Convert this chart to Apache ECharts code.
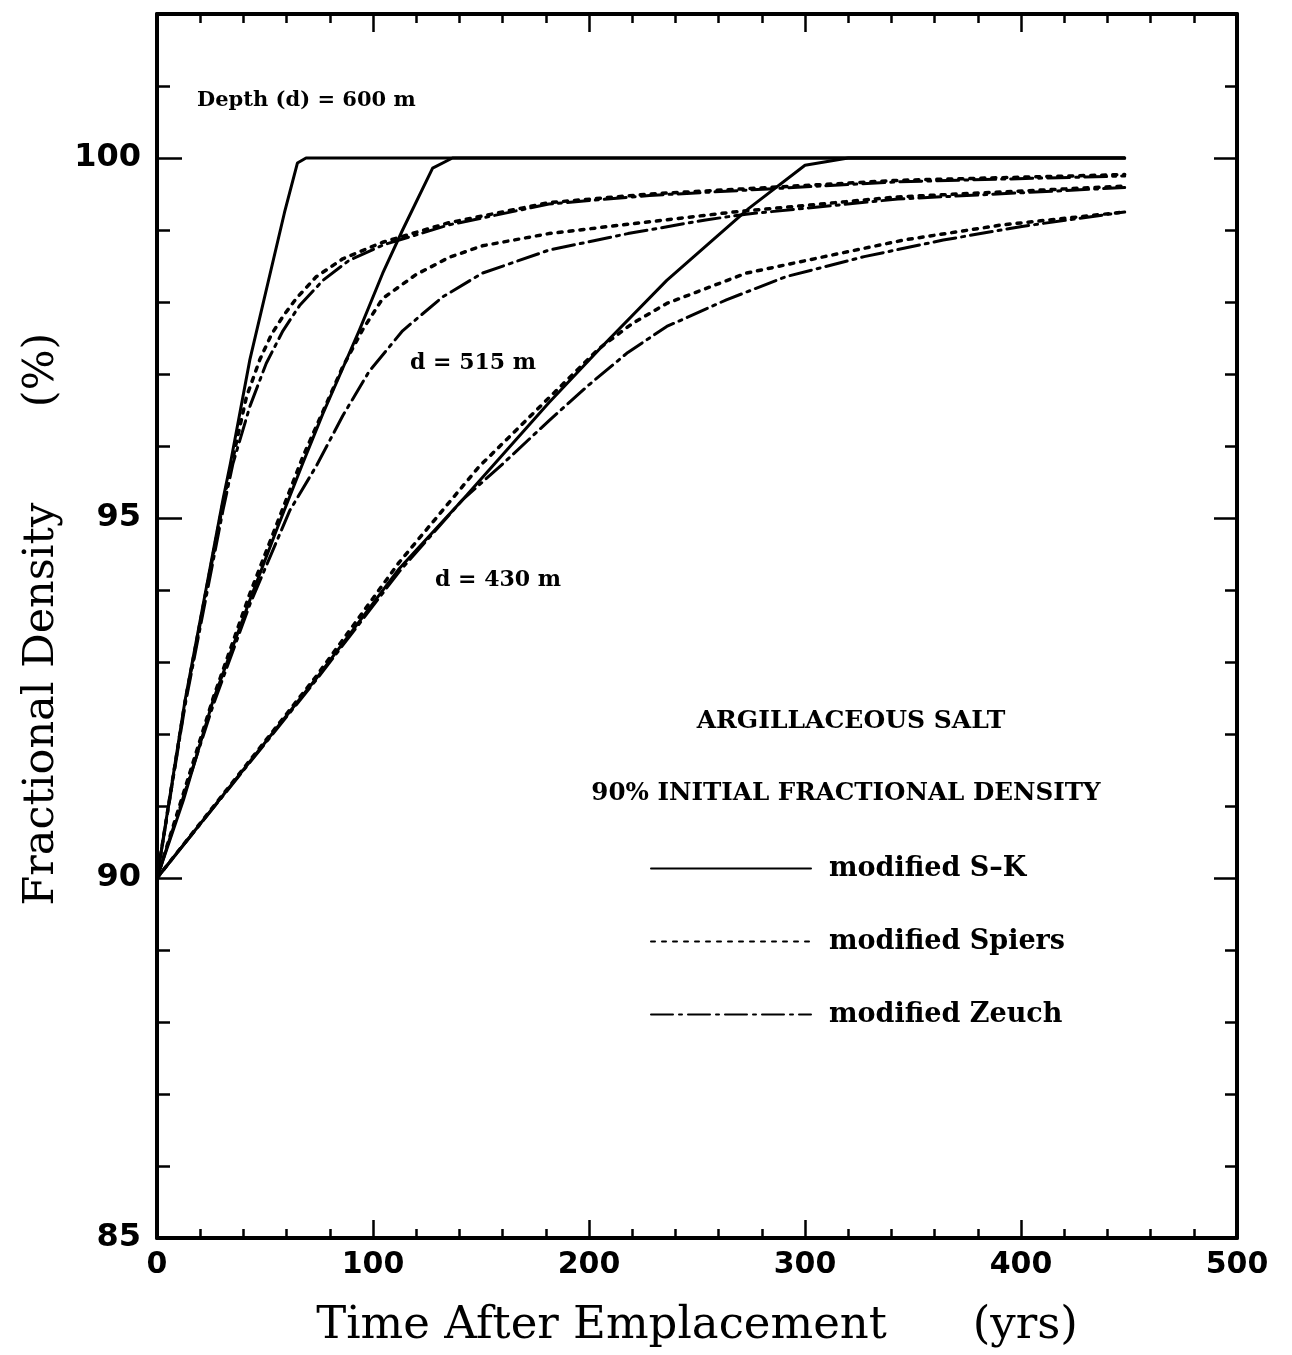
<!DOCTYPE html>
<html>
<head>
<meta charset="utf-8">
<title>Argillaceous salt - fractional density</title>
<script src="https://cdn.jsdelivr.net/npm/echarts@6.0.0/dist/echarts.min.js"></script>
<style>
  html, body { margin: 0; padding: 0; background: #fff; }
  #main { width: 1292px; height: 1355px; }
</style>
</head>
<body>
<div id="main"></div>
<script>
// Data: [time after emplacement (yrs), fractional density (%)]
// depth 600 m
const sk600 = [[0, 90], [13, 92.47], [30.5, 95.25], [34, 95.76], [43, 97.2], [59, 99.24], [65, 99.93], [69, 100], [448, 100]];
const spiers600 = [[0, 90], [13, 92.45], [30.5, 95.2], [41.4, 96.68], [47.6, 97.2], [53, 97.55], [58.3, 97.8], [64.5, 98.05],
    [73.7, 98.35], [86, 98.6], [104.5, 98.83], [135, 99.1], [181.4, 99.38], [228, 99.5], [289, 99.6], [343, 99.69], [448, 99.77]];
const zeuch600 = [[0, 90], [13, 92.4], [30.5, 95.1], [35.2, 95.76], [43, 96.55], [50.6, 97.15], [58.3, 97.6], [66, 97.95],
    [76.8, 98.3], [89, 98.58], [104.5, 98.79], [135, 99.07], [181.4, 99.36], [228, 99.48], [289, 99.58], [343, 99.67], [448, 99.75]];
// depth 515 m
const sk515 = [[0, 90], [12.2, 91.08], [26, 92.47], [43, 93.86], [55.3, 94.83], [67.5, 95.76], [76.8, 96.45], [86, 97.08],
    [93.7, 97.61], [104.5, 98.4], [113.7, 99.0], [127.6, 99.86], [136.8, 100], [448, 100]];
const spiers515 = [[0, 90], [26, 92.5], [43, 93.95], [67.5, 95.85], [86, 97.1], [95.3, 97.62], [104.5, 98.05], [119.9, 98.38],
    [135.3, 98.62], [150.6, 98.78], [181.4, 98.95], [218, 99.08], [267, 99.25], [343, 99.46], [448, 99.61]];
const zeuch515 = [[0, 90], [26, 92.4], [43, 93.8], [61.4, 95.1], [73.7, 95.72], [86, 96.42], [98.3, 97.04], [113.7, 97.6],
    [132.2, 98.07], [150.6, 98.4], [181.4, 98.72], [218, 98.95], [254, 99.14], [272.7, 99.22], [343, 99.43], [448, 99.59]];
// depth 430 m
const sk430 = [[0, 90], [73.7, 92.77], [112.2, 94.3], [141.4, 95.25], [181.4, 96.6], [205, 97.35], [236, 98.3], [274, 99.3],
    [300, 99.9], [320, 100], [448, 100]];
const spiers430 = [[0, 90], [73.7, 92.8], [112, 94.38], [149, 95.71], [204.5, 97.35], [220, 97.7], [236, 97.98], [272.7, 98.4],
    [309, 98.63], [345.6, 98.86], [391, 99.07], [448, 99.25]];
const zeuch430 = [[0, 90], [73.7, 92.75], [112, 94.25], [141.4, 95.25], [160, 95.75], [181.4, 96.35], [200, 96.85], [218, 97.3],
    [236, 97.66], [263.6, 98.03], [291, 98.35], [327.4, 98.63], [364, 98.86], [400.4, 99.05], [448, 99.25]];

const modelNames = ['modified S\u2013K', 'modified Spiers', 'modified Zeuch'];
const xTickLabels = [0, 100, 200, 300, 400, 500];
const yTickLabels = [85, 90, 95, 100];

// Line styles per model
const modelStyles = {
    'modified S\u2013K': { type: 'solid', width: 3 },
    'modified Spiers': { type: [4, 7], width: 3.5 },
    'modified Zeuch': { type: [22, 6, 3, 6], width: 3 }
};

const curves = [
    { model: modelNames[0], data: sk600 },
    { model: modelNames[1], data: spiers600 },
    { model: modelNames[2], data: zeuch600 },
    { model: modelNames[0], data: sk515 },
    { model: modelNames[1], data: spiers515 },
    { model: modelNames[2], data: zeuch515 },
    { model: modelNames[0], data: sk430 },
    { model: modelNames[1], data: spiers430 },
    { model: modelNames[2], data: zeuch430 }
];

const BLACK = '#000';
const serif = '"DejaVu Serif", "Liberation Serif", serif';
const sans = '"DejaVu Sans", "Liberation Sans", sans-serif';

function tickAxis(position, interval, length, withLine, min, max) {
    return {
        type: 'value',
        position: position,
        min: min,
        max: max,
        interval: interval,
        axisLine: { show: withLine, onZero: false, lineStyle: { color: BLACK, width: 4 } },
        axisTick: { show: true, inside: true, length: length, lineStyle: { color: BLACK, width: 2.5 } },
        axisLabel: { show: false },
        splitLine: { show: false }
    };
}

const chart = echarts.init(document.getElementById('main'), null, { renderer: 'canvas' });

const xMain = tickAxis('bottom', 20, 9, true, 0, 500);
xMain.axisLabel = {
    show: true,
    formatter: v => xTickLabels.includes(v) ? String(v) : '',
    fontFamily: sans, fontWeight: 'bold', fontSize: 30, color: BLACK, margin: 12
};
xMain.name = 'Time After Emplacement      (yrs)';
xMain.nameLocation = 'middle';
xMain.nameGap = 66;
xMain.nameTextStyle = { fontFamily: serif, fontSize: 45, color: BLACK };

const yMain = tickAxis('left', 1, 13, true, 85, 102);
yMain.axisLabel = {
    show: true,
    formatter: v => yTickLabels.includes(v) ? String(v) : '',
    fontFamily: sans, fontWeight: 'bold', fontSize: 32, color: BLACK, margin: 16
};
yMain.name = ' Fractional Density       (%)';
yMain.nameLocation = 'middle';
yMain.nameGap = 93;
yMain.nameTextStyle = { fontFamily: serif, fontSize: 43, color: BLACK };

const option = {
    animation: false,
    backgroundColor: '#fff',
    grid: { left: 157, right: 55, top: 14, bottom: 117, containLabel: false, outerBoundsMode: 'none' },
    xAxis: [
        xMain,
        tickAxis('bottom', 100, 18, false, 0, 500),
        tickAxis('top', 20, 9, true, 0, 500),
        tickAxis('top', 100, 18, false, 0, 500)
    ],
    yAxis: [
        yMain,
        tickAxis('left', 5, 25, false, 85, 102),
        tickAxis('right', 1, 12, true, 85, 102),
        tickAxis('right', 5, 23, false, 85, 102)
    ],
    legend: {
        data: modelNames,
        orient: 'vertical',
        left: 650,
        top: 855,
        padding: 0,
        itemWidth: 160,
        itemHeight: 20,
        itemGap: 46,
        selectedMode: false,
        itemStyle: { opacity: 0, borderWidth: 0 },
        textStyle: { fontFamily: serif, fontWeight: 'bold', fontSize: 27, color: BLACK, padding: [0, 0, 0, 13] }
    },
    graphic: [
        { type: 'text', x: 197, y: 101, style: { text: 'Depth (d) = 600 m', font: 'bold 21px ' + serif, fill: BLACK, verticalAlign: 'middle' } },
        { type: 'text', x: 410, y: 363, style: { text: 'd = 515 m', font: 'bold 22px ' + serif, fill: BLACK, verticalAlign: 'middle' } },
        { type: 'text', x: 435, y: 580, style: { text: 'd = 430 m', font: 'bold 22px ' + serif, fill: BLACK, verticalAlign: 'middle' } },
        { type: 'text', x: 851, y: 721, style: { text: 'ARGILLACEOUS SALT', font: 'bold 25px ' + serif, fill: BLACK, align: 'center', verticalAlign: 'middle' } },
        { type: 'text', x: 846, y: 794, style: { text: '90% INITIAL FRACTIONAL DENSITY', font: 'bold 24.6px ' + serif, fill: BLACK, align: 'center', verticalAlign: 'middle' } }
    ],
    series: curves.map(c => ({
        name: c.model,
        type: 'line',
        xAxisIndex: 0,
        yAxisIndex: 0,
        data: c.data,
        symbol: 'none',
        smooth: false,
        silent: true,
        lineStyle: {
            color: BLACK,
            width: modelStyles[c.model].width,
            type: modelStyles[c.model].type,
            cap: 'round',
            join: 'round'
        },
        itemStyle: { color: BLACK }
    }))
};

chart.setOption(option);
window.addEventListener('resize', () => chart.resize());
</script>
</body>
</html>
